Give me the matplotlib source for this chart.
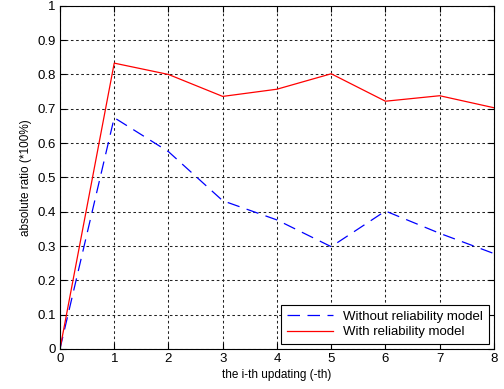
import numpy as np
import matplotlib
matplotlib.use("Agg")
import matplotlib.pyplot as plt

plt.rcParams['font.family'] = ['Liberation Sans', 'DejaVu Sans']

x = [0, 1, 2, 3, 4, 5, 6, 7, 8]
without_rel = [0, 0.674, 0.575, 0.432, 0.376, 0.298, 0.402, 0.337, 0.278]
with_rel = [0, 0.833, 0.800, 0.736, 0.757, 0.802, 0.722, 0.738, 0.703]

fig = plt.figure(figsize=(5.04, 3.89), dpi=100)
ax = fig.add_axes([0.119, 0.103, 0.861, 0.882])

ax.plot(x, without_rel, color='blue', linestyle=(0, (10, 6)), linewidth=0.9,
        label="Without reliability model")
ax.plot(x, with_rel, color='red', linestyle='-', linewidth=0.9,
        label="With reliability model")

ax.set_xlim(0, 8)
ax.set_ylim(0, 1)
ax.set_xticks(np.arange(0, 9, 1))
ax.set_yticks(np.arange(0, 1.01, 0.1))
ax.set_yticklabels(["0", "0.1", "0.2", "0.3", "0.4", "0.5", "0.6", "0.7", "0.8", "0.9", "1"])
ax.grid(True, color='#222222', linestyle=(0, (2.5, 2.5)), linewidth=0.75)
ax.tick_params(direction='in', top=True, right=True, labelsize=9.5, length=4, pad=3)
for s in ax.spines.values():
    s.set_linewidth(0.8)

ax.set_xlabel("the i-th updating (-th)", fontsize=8.5, labelpad=3)
ax.set_ylabel("absolute ratio (*100%)", fontsize=8.5, labelpad=4)

leg = ax.legend(loc='lower right', fontsize=9.5, frameon=True, fancybox=False,
                edgecolor='black', framealpha=1, handlelength=3.5,
                borderpad=0.4, labelspacing=0.25, borderaxespad=0.4)
leg.get_frame().set_linewidth(0.8)

plt.savefig("out.png", dpi=100)
